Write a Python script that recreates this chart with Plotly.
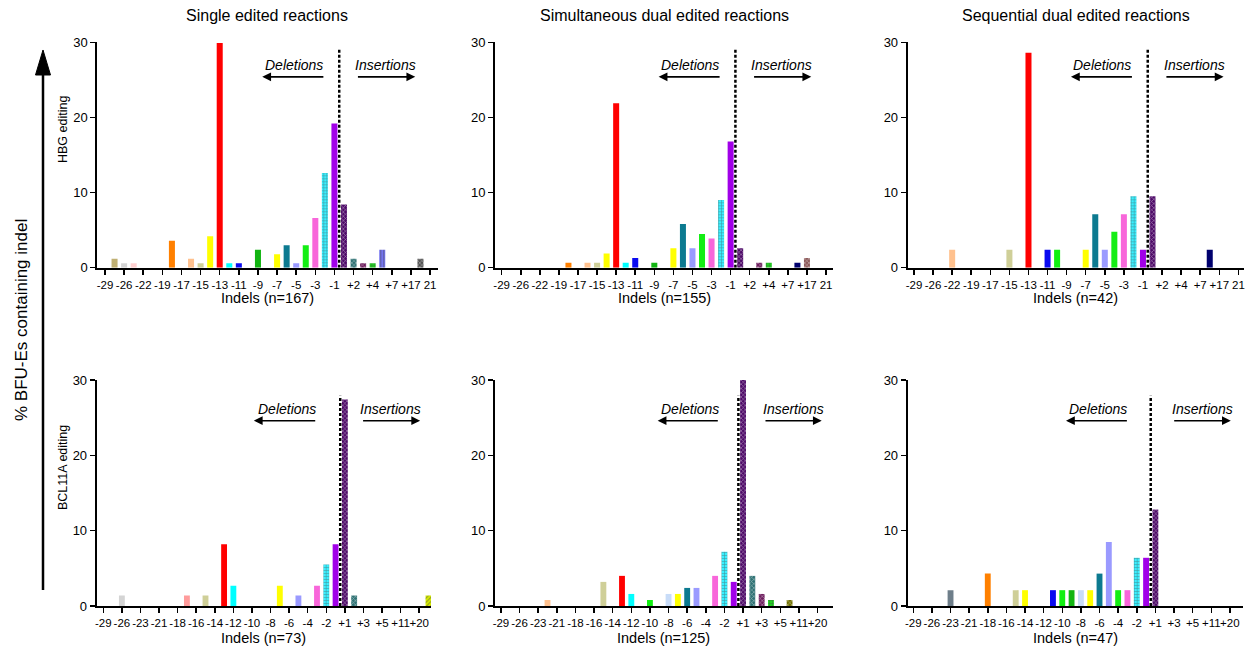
import plotly.graph_objects as go

W, H = 1251, 650
FONT = "Liberation Sans, Arial, sans-serif"

# ---------------- categories (x slots) ----------------
top_categories = ['-29', '-27', '-26', '-24', '-22', '-20', '-19', '-18', '-17', '-16',
                  '-15', '-14', '-13', '-12', '-11', '-10', '-9', '-8', '-7', '-6',
                  '-5', '-4', '-3', '-2', '-1', '+1', '+2', '+3', '+4', '+5',
                  '+7', '+9', '+17', '+19', '21']
bottom_categories = ['-29', '-27', '-26', '-24', '-23', '-22', '-21', '-20', '-18', '-17',
                     '-16', '-15', '-14', '-13', '-12', '-11', '-10', '-9', '-8', '-7',
                     '-6', '-5', '-4', '-3', '-2', '-1', '+1', '+2', '+3', '+4',
                     '+5', '+8', '+11', '+15', '+20', '+22']
top_ticks = top_categories[::2]
bottom_ticks = bottom_categories[::2]

# ---------------- data (% BFU-Es containing indel) ----------------
hbg_single_indels = ['-27', '-26', '-24', '-18', '-16', '-15', '-14', '-13', '-12', '-11',
                     '-9', '-7', '-6', '-5', '-4', '-3', '-2', '-1', '+1', '+2',
                     '+3', '+4', '+5', '+19']
hbg_single_pct = [1.2, 0.6, 0.6, 3.6, 1.2, 0.6, 4.2, 29.9, 0.6, 0.6,
                  2.4, 1.8, 3.0, 0.6, 3.0, 6.6, 12.6, 19.2, 8.4, 1.2,
                  0.6, 0.6, 2.4, 1.2]

hbg_simul_indels = ['-18', '-16', '-15', '-14', '-13', '-12', '-11', '-9', '-7', '-6',
                    '-5', '-4', '-3', '-2', '-1', '+1', '+3', '+4', '+9', '+17']
hbg_simul_pct = [0.65, 0.65, 0.65, 1.9, 21.9, 0.65, 1.3, 0.65, 2.6, 5.8,
                 2.6, 4.5, 3.9, 9.0, 16.8, 2.6, 0.65, 0.65, 0.65, 1.3]

hbg_seq_indels = ['-22', '-15', '-13', '-11', '-10', '-7', '-6', '-5', '-4', '-3',
                  '-2', '-1', '+1', '+9']
hbg_seq_pct = [2.4, 2.4, 28.6, 2.4, 2.4, 2.4, 7.1, 2.4, 4.8, 7.1,
               9.5, 2.4, 9.5, 2.4]

bcl_single_indels = ['-26', '-17', '-15', '-13', '-12', '-7', '-5', '-3', '-2', '-1',
                     '+1', '+2', '+22']
bcl_single_pct = [1.4, 1.4, 1.4, 8.2, 2.7, 2.7, 1.4, 2.7, 5.5, 8.2,
                  27.4, 1.4, 1.4]

bcl_simul_indels = ['-22', '-15', '-13', '-12', '-10', '-8', '-7', '-6', '-5', '-3',
                    '-2', '-1', '+1', '+2', '+3', '+4', '+8']
bcl_simul_pct = [0.8, 3.2, 4.0, 1.6, 0.8, 1.6, 1.6, 2.4, 2.4, 4.0,
                 7.2, 3.2, 30.4, 4.0, 1.6, 0.8, 0.8]

bcl_seq_indels = ['-23', '-18', '-15', '-14', '-11', '-10', '-9', '-8', '-7', '-6',
                  '-5', '-4', '-3', '-2', '-1', '+1']
bcl_seq_pct = [2.1, 4.3, 2.1, 2.1, 2.1, 2.1, 2.1, 2.1, 2.1, 4.3,
               8.5, 2.1, 2.1, 6.4, 6.4, 12.8]

column_titles = ['Single edited reactions', 'Simultaneous dual edited reactions',
                 'Sequential dual edited reactions']
row_labels = ['HBG editing', 'BCL11A editing']
n_values = [167, 155, 42, 73, 125, 47]

# ---------------- styles ----------------
color_map = {
    '-27': '#C0B073', '-26': '#D4D4D4', '-24': '#FFD0D0', '-23': '#6E7E8A',
    '-22': '#FFC18E', '-18': '#FF8000', '-17': '#FF9C9C', '-16': '#FFC18E',
    '-15': '#CFCF98', '-14': '#FFFF00', '-13': '#FF0000', '-12': '#00FFFF',
    '-11': '#0A0AF0', '-10': '#10F010', '-9': '#12B412', '-8': '#C8DCF8',
    '-7': '#FFFF00', '-6': '#0C7A90', '-5': '#9A9AFF', '-4': '#14EE14',
    '-3': '#F866DA', '-2': '#3AF0FF', '-1': '#A100E8', '+1': '#4E0A68',
    '+2': '#2F7274', '+3': '#6E1E5E', '+4': '#22D022', '+5': '#7474F0',
    '+8': '#707000', '+9': '#00006E', '+17': '#8E5C5C', '+19': '#555555',
    '+22': '#D8EE00',
}
pattern_map = {'-2': '+', '+1': 'x', '+2': 'x', '+3': 'x', '+4': '+', '+5': '|',
               '+8': 'x', '+17': 'x', '+19': 'x', '+22': '/'}
pattern_fg = {'-2': '#FFFFFF', '+1': '#2A0038', '+2': '#123A3C', '+3': '#3A0A30',
              '+4': '#0A5A0A', '+5': '#C8C8FF', '+8': '#3A3A00', '+17': '#4A2A2A',
              '+19': '#222222', '+22': '#000000'}

# panel geometry (pixels): x-domain, y-domain, x-range (slot units)
panel_xdom = [(97.3, 437.5), (495, 833), (907.7, 1244),
              (96.7, 431), (495, 832.7), (907.7, 1243)]
panel_xrng = [(-0.805, 34.78), (-0.70, 34.73), (-0.66, 34.59),
              (-0.71, 35.27), (-0.64, 35.63), (-0.60, 35.41)]
row_ydom = [(42.3, 267.7), (380, 606)]
# deletions/insertions annotation positions (slot units)
del_text_x = [19.75, 19.75, 19.75, 19.8, 20.3, 19.87]
del_arrow = [(23.0, 16.45)] * 3 + [(22.97, 16.2), (23.45, 16.83), (23.1, 16.4)]
ins_text_x = [29.35, 29.35, 29.35, 30.9, 31.4, 31.04]
ins_arrow = [(26.3, 32.45)] * 3 + [(27.8, 34.1), (28.25, 34.45), (27.86, 34.1)]

panels = [
    (hbg_single_indels, hbg_single_pct),
    (hbg_simul_indels, hbg_simul_pct),
    (hbg_seq_indels, hbg_seq_pct),
    (bcl_single_indels, bcl_single_pct),
    (bcl_simul_indels, bcl_simul_pct),
    (bcl_seq_indels, bcl_seq_pct),
]

fig = go.Figure()
layout = {}
shapes = []
annotations = []


def txt(x, y, text, size, angle=0, xref='paper', yref='paper'):
    return dict(xref=xref, yref=yref, x=x, y=y, text=text, showarrow=False,
                textangle=angle, xanchor='center', yanchor='middle',
                font=dict(family=FONT, size=size, color='black'))


for i, (indels, pct) in enumerate(panels):
    row = i // 3
    sfx = '' if i == 0 else str(i + 1)
    xa, ya = 'x' + sfx, 'y' + sfx
    cats = top_categories if row == 0 else bottom_categories
    ticks = top_ticks if row == 0 else bottom_ticks

    fig.add_trace(go.Bar(
        x=indels, y=pct, xaxis=xa, yaxis=ya, width=0.63,
        marker=dict(
            color=[color_map[k] for k in indels],
            line=dict(width=0),
            pattern=dict(shape=[pattern_map.get(k, '') for k in indels],
                         fgcolor=[pattern_fg.get(k, '#FFFFFF') for k in indels],
                         size=3, solidity=0.35, fillmode='overlay'),
        ),
        showlegend=False, hoverinfo='x+y',
    ))

    x0, x1 = panel_xdom[i]
    y0, y1 = row_ydom[row]
    layout['xaxis' + sfx] = dict(
        type='category', categoryorder='array', categoryarray=cats,
        range=list(panel_xrng[i]), domain=[x0 / W, x1 / W], anchor=ya,
        tickmode='array', tickvals=ticks, ticktext=ticks, tickangle=0,
        ticks='outside', ticklen=5, tickwidth=1.5, tickcolor='black',
        showline=True, linecolor='black', linewidth=2, automargin=False,
        showgrid=False, zeroline=False, fixedrange=True,
        tickfont=dict(family=FONT, size=11.5, color='black'),
    )
    layout['yaxis' + sfx] = dict(
        range=[0, 30], domain=[1 - y1 / H, 1 - y0 / H], anchor=xa,
        tickmode='array', tickvals=[0, 10, 20, 30], automargin=False,
        ticks='outside', ticklen=5, tickwidth=1.5, tickcolor='black',
        showline=True, linecolor='black', linewidth=2,
        showgrid=False, zeroline=False, fixedrange=True,
        tickfont=dict(family=FONT, size=13, color='black'),
    )

    # dashed separator between deletions and insertions
    sep = cats.index('-1') + 0.5
    shapes.append(dict(type='line', xref=xa, yref=ya, x0=sep, x1=sep,
                       y0=0, y1=29.2 if row == 0 else 27.9,
                       line=dict(color='black', width=2.5, dash='3px,2px')))

    ty = 27.0 if row == 0 else 26.1
    ay_ = 25.4 if row == 0 else 24.6
    annotations.append(txt(del_text_x[i], ty, '<i>Deletions</i>', 14, xref=xa, yref=ya))
    annotations.append(txt(ins_text_x[i], ty, '<i>Insertions</i>', 14, xref=xa, yref=ya))
    for tail, head in (del_arrow[i], ins_arrow[i]):
        annotations.append(dict(xref=xa, yref=ya, axref=xa, ayref=ya, x=head, y=ay_, ax=tail, ay=ay_,
                                text='', showarrow=True, arrowhead=2, arrowsize=1.1, arrowwidth=1.6,
                                arrowcolor='black', standoff=0, startstandoff=0))

    # x axis title
    annotations.append(txt((x0 + x1) / 2 / W, 1 - (298 if row == 0 else 638) / H,
                           'Indels (n=%d)' % n_values[i], 14.5))

# column titles
for c in range(3):
    x0, x1 = panel_xdom[c]
    annotations.append(txt((x0 + x1) / 2 / W, 1 - 16 / H, column_titles[c], 16))

# row labels
for r, yc in enumerate([130, 468]):
    annotations.append(txt(63 / W, 1 - yc / H, row_labels[r], 12.5, angle=-90))

# global y label and big arrow
annotations.append(txt(21 / W, 1 - 320 / H, '% BFU-Es containing indel', 17, angle=-90))
shapes.append(dict(type='line', xref='paper', yref='paper', x0=43 / W, x1=43 / W,
                   y0=1 - 590 / H, y1=1 - 72 / H, line=dict(color='black', width=2.5)))
shapes.append(dict(type='path', xref='paper', yref='paper',
                   path='M %f %f L %f %f L %f %f Z' % (35.5 / W, 1 - 75 / H, 50.5 / W, 1 - 75 / H,
                                                       43 / W, 1 - 50 / H),
                   fillcolor='black', line=dict(color='black', width=1)))

fig.update_layout(
    template='none',
    width=W, height=H, margin=dict(l=0, r=0, t=0, b=0, pad=0, autoexpand=False),
    paper_bgcolor='white', plot_bgcolor='white',
    shapes=shapes, annotations=annotations, bargap=0.35,
    font=dict(family=FONT, color='black'),
    **layout,
)

fig.write_html('out.html',
               config={'displayModeBar': False, 'staticPlot': True},
               post_script="document.body.style.margin='0px';"
                           "document.body.style.overflow='hidden';")
